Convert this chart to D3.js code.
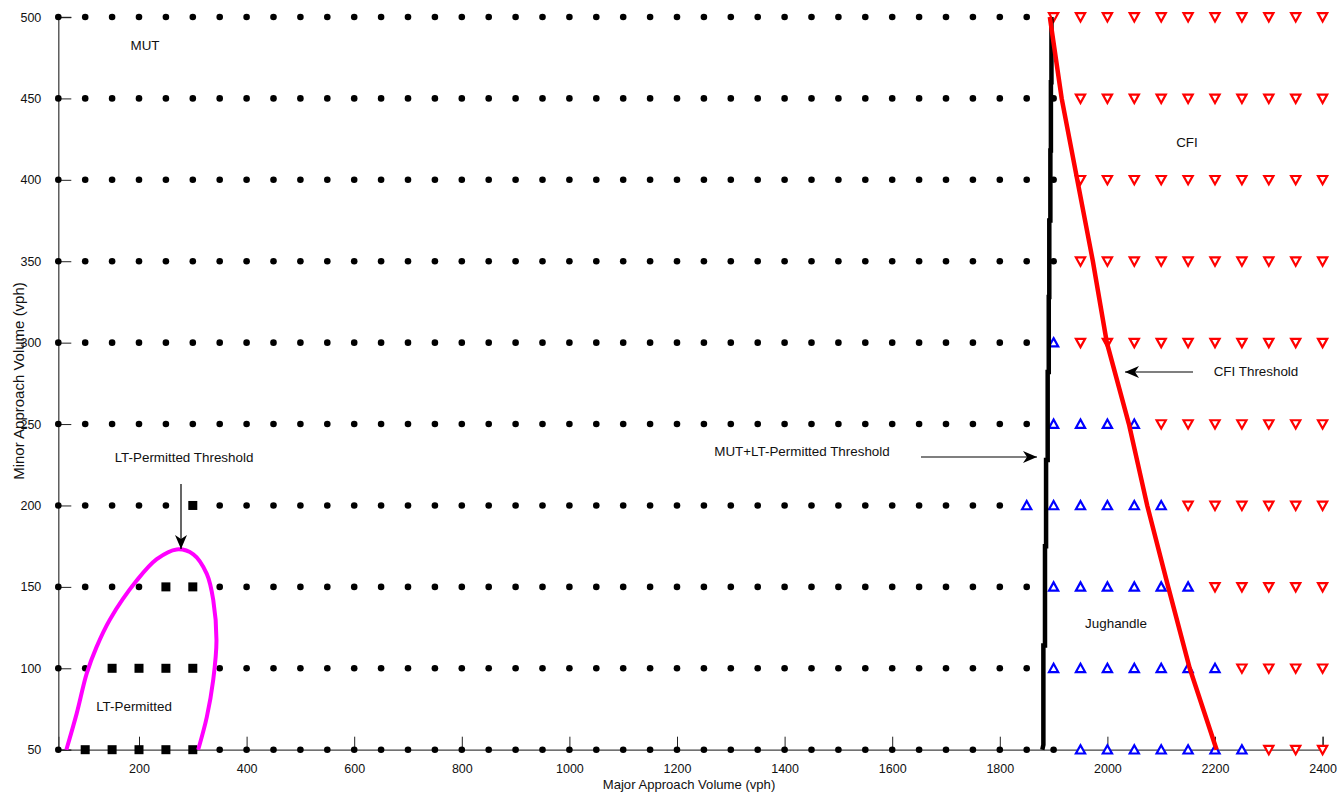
<!DOCTYPE html>
<html><head><meta charset="utf-8">
<script src="https://cdn.jsdelivr.net/npm/d3@7"></script>
<style>body{margin:0;background:#fff}svg{display:block;font-family:"Liberation Sans",Arial,sans-serif}</style>
</head><body><svg id="c" width="1340" height="798"></svg>
<script>
// ---- data ----
const majorVolumes = [50,100,150,200,250,300,350,400,450,500,550,600,650,700,750,800,850,900,950,1000,1050,1100,1150,1200,1250,1300,1350,1400,1450,1500,1550,1600,1650,1700,1750,1800,1850,1900,1950,2000,2050,2100,2150,2200,2250,2300,2350,2400];
const minorVolumes = [50,100,150,200,250,300,350,400,450,500];
// first major volume of Jughandle (blue) and CFI (red) region per minor-volume row
const jughandleFrom = [1950,1900,1900,1850,1900,1900,null,null,null,null];
const cfiFrom       = [2300,2250,2200,2150,2100,1950,1950,1950,1950,1900];
const ltPermittedPoints = [[100,50],[150,50],[200,50],[250,50],[300,50],[150,100],[200,100],[250,100],[300,100],[250,150],[300,150],[300,200]];
const xTicks = [200,400,600,800,1000,1200,1400,1600,1800,2000,2200,2400];
const yTicks = [50,100,150,200,250,300,350,400,450,500];
// threshold curves
const ltThreshold = [[65,50],[84,72],[103,97],[121,113],[146,130],[196,154],[233,167],[270,173],[301,170],[326,158],[338,142],[344,117],[338,93],[326,70],[310,50]];
const mutThreshold = [[1896,500],[1896,460],[1895,460],[1895,418],[1894,418],[1894,375],[1892,375],[1892,328],[1891,328],[1891,282],[1889,282],[1889,228],[1886,228],[1886,175],[1884,175],[1884,114],[1881,114],[1881,53],[1879,50]];
const cfiThreshold = [[1893,500],[1915,450],[1944,400],[1973,350],[1999,300],[2040,250],[2074,200],[2113,150],[2153,100],[2203,50]];

// ---- chart ----
const svg = d3.select("#c");
const x = d3.scaleLinear().domain([50,2400]).range([58.3,1322.6]);
const y = d3.scaleLinear().domain([50,500]).range([749.7,17]);

// axes
const xAxis = d3.axisBottom(x).tickValues(xTicks).tickSize(-13).tickPadding(19).tickFormat(d3.format("d"));
const gx = svg.append("g").attr("transform",`translate(0,${y(50)})`).call(xAxis);
const yAxis = d3.axisLeft(y).tickValues(yTicks).tickSize(-13).tickPadding(17).tickFormat(d3.format("d"));
const gy = svg.append("g").attr("transform",`translate(${x(50)},0)`).call(yAxis);
[gx,gy].forEach(g=>{
  g.select(".domain").attr("stroke","#444").attr("stroke-width",1.3);
  g.selectAll(".tick line").attr("stroke","#222").attr("stroke-width",1);
  g.selectAll(".tick text").attr("font-size",12.5).attr("fill","#111").attr("font-family","Liberation Sans, Arial");
});
gx.selectAll(".tick text").attr("dy","0.35em");

svg.append("text").attr("x",689).attr("y",789).attr("text-anchor","middle").attr("font-size",13.1).attr("fill","#111").text("Major Approach Volume (vph)");
svg.append("text").attr("transform","translate(24,381) rotate(-90)").attr("text-anchor","middle").attr("font-size",15).attr("fill","#111").text("Minor Approach Volume (vph)");

// points
const isSquare = (mx,my)=>ltPermittedPoints.some(p=>p[0]===mx&&p[1]===my);
const pts = [];
minorVolumes.forEach((my,i)=>{
  majorVolumes.forEach(mx=>{
    let t="dot";
    if (cfiFrom[i]!==null && mx>=cfiFrom[i]) t="cfi";
    else if (jughandleFrom[i]!==null && mx>=jughandleFrom[i]) t="jug";
    else if (isSquare(mx,my)) t="sq";
    pts.push({mx,my,t});
  });
});
const g = svg.append("g");
g.selectAll("circle").data(pts.filter(d=>d.t==="dot")).join("circle")
  .attr("cx",d=>x(d.mx)).attr("cy",d=>y(d.my)).attr("r",3.3).attr("fill","#000");
g.selectAll("rect").data(pts.filter(d=>d.t==="sq")).join("rect")
  .attr("x",d=>x(d.mx)-4.5).attr("y",d=>y(d.my)-4.5).attr("width",9).attr("height",9).attr("fill","#000");
const up = "M0,-4.5 L4.6,3.8 L-4.6,3.8 Z", dn = "M0,4.5 L4.6,-3.8 L-4.6,-3.8 Z";
g.selectAll("path.jug").data(pts.filter(d=>d.t==="jug")).join("path").attr("class","jug")
  .attr("transform",d=>`translate(${x(d.mx)},${y(d.my)})`).attr("d",up)
  .attr("fill","#fff").attr("stroke","#0000ff").attr("stroke-width",2.2);
g.selectAll("path.cfi").data(pts.filter(d=>d.t==="cfi")).join("path").attr("class","cfi")
  .attr("transform",d=>`translate(${x(d.mx)},${y(d.my)})`).attr("d",dn)
  .attr("fill","#fff").attr("stroke","#ff0000").attr("stroke-width",2.2);

// threshold lines
const line = d3.line().x(d=>x(d[0])).y(d=>y(d[1]));
svg.append("path").attr("d",line(mutThreshold)).attr("fill","none").attr("stroke","#000").attr("stroke-width",4.5);
svg.append("path").attr("d",line(cfiThreshold)).attr("fill","none").attr("stroke","#ff0000").attr("stroke-width",4.5);
svg.append("path").attr("d",line.curve(d3.curveCatmullRom)(ltThreshold)).attr("fill","none").attr("stroke","#ff00ff").attr("stroke-width",4);

// arrows
function arrow(x1,y1,x2,y2){
  svg.append("line").attr("x1",x1).attr("y1",y1).attr("x2",x2).attr("y2",y2).attr("stroke","#000").attr("stroke-width",1.2);
  const a = Math.atan2(y2-y1,x2-x1)*180/Math.PI;
  svg.append("path").attr("d","M0,0 L-14,-6 L-10,0 L-14,6 Z").attr("fill","#000")
    .attr("transform",`translate(${x2},${y2}) rotate(${a})`);
}
arrow(181,484,181,549);
arrow(921,457,1037,457);
arrow(1193,372,1125,372);

// labels
const labels = [["MUT",145,50],["CFI",1187,147],["Jughandle",1116,628],["LT-Permitted",134,711],
  ["LT-Permitted Threshold",184,462],["MUT+LT-Permitted Threshold",802,456],["CFI Threshold",1256,376]];
svg.selectAll("text.lbl").data(labels).join("text").attr("class","lbl")
  .attr("x",d=>d[1]).attr("y",d=>d[2]).attr("text-anchor","middle").attr("font-size",13.4).attr("fill","#111").text(d=>d[0]);
</script></body></html>
